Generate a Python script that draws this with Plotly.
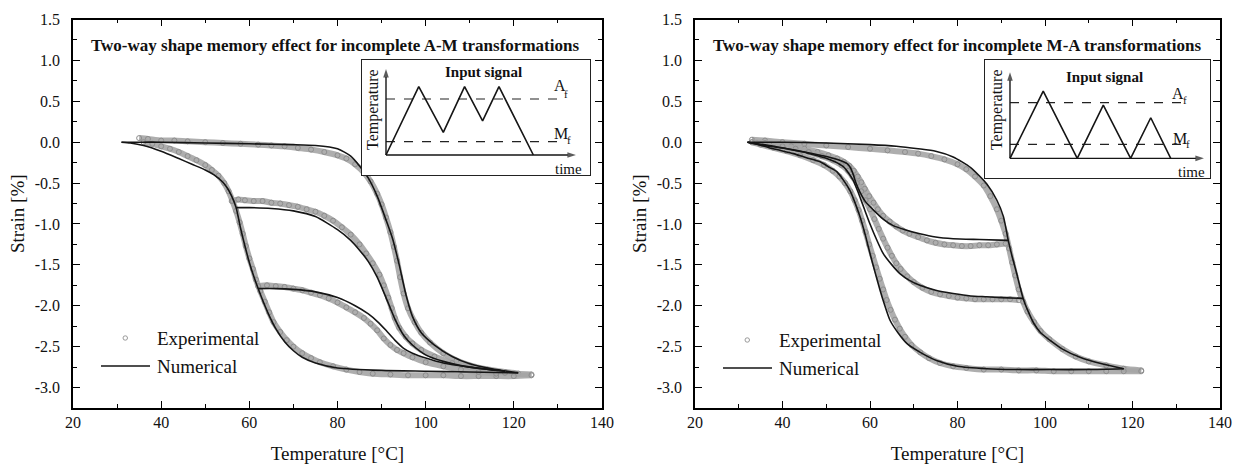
import plotly.graph_objects as go

FONT = '"Liberation Serif", "Times New Roman", Times, serif'
W, H = 1243, 467
INK = "#111111"

# ---------------- tick labels ----------------
x_tick_vals = [20, 40, 60, 80, 100, 120, 140]
x_tick_text = ["20", "40", "60", "80", "100", "120", "140"]
x_minor_vals = [30, 50, 70, 90, 110, 130]
y_tick_vals = [-3.0, -2.5, -2.0, -1.5, -1.0, -0.5, 0.0, 0.5, 1.0, 1.5]
y_tick_text = ["-3.0", "-2.5", "-2.0", "-1.5", "-1.0", "-0.5", "0.0", "0.5", "1.0", "1.5"]
y_minor_vals = [-3.25, -2.75, -2.25, -1.75, -1.25, -0.75, -0.25, 0.25, 0.75, 1.25]

titles = ["Two-way shape memory effect for incomplete A-M transformations",
          "Two-way shape memory effect for incomplete M-A transformations"]
legend_labels = ["Experimental", "Numerical"]

# ---------------- LEFT panel (incomplete A-M) : numerical ----------------
L_num_heat_T = [31, 35, 40, 50, 60, 70, 75, 80, 83, 85, 87, 89, 91, 92.5, 94, 95.5, 97, 99, 102, 106, 110, 115, 121]
L_num_heat_S = [0, 0, 0, -0.01, -0.02, -0.03, -0.04, -0.08, -0.17, -0.29, -0.44, -0.66, -0.95, -1.18, -1.5, -1.86, -2.13, -2.33, -2.48, -2.62, -2.71, -2.77, -2.82]
L_num_cool_T = [121, 110, 100, 90, 80, 75, 72, 70, 68, 66, 64.5, 63, 62, 61, 60, 59, 58, 57.5, 57, 56, 55, 54, 52, 50, 47, 44, 40, 36, 33, 31]
L_num_cool_S = [-2.82, -2.81, -2.8, -2.79, -2.76, -2.7, -2.63, -2.55, -2.44, -2.28, -2.12, -1.93, -1.79, -1.64, -1.47, -1.27, -1.05, -0.92, -0.8, -0.66, -0.56, -0.49, -0.4, -0.34, -0.27, -0.2, -0.11, -0.04, -0.01, 0]
L_num_re1_T = [57, 60, 65, 70, 75, 80, 83, 85, 87, 89, 91, 93, 95, 97, 100, 104, 110, 118]
L_num_re1_S = [-0.8, -0.8, -0.81, -0.84, -0.91, -1.07, -1.2, -1.32, -1.46, -1.65, -1.9, -2.16, -2.36, -2.48, -2.6, -2.68, -2.75, -2.8]
L_num_re2_T = [62, 66, 70, 75, 80, 84, 87, 89, 91, 93, 95, 97, 100, 104, 110, 118]
L_num_re2_S = [-1.79, -1.79, -1.8, -1.83, -1.9, -2.0, -2.1, -2.19, -2.3, -2.42, -2.52, -2.58, -2.64, -2.7, -2.75, -2.8]

# ---------------- LEFT panel : experimental ----------------
L_exp_heat_T = [35, 37, 40, 43, 46, 50, 54, 58, 62, 65, 68, 71, 74, 77, 80, 82, 84, 86, 87.5, 89, 90, 91, 92, 92.8, 93.5, 94.2, 95, 96, 97.5, 99, 101, 104, 107, 110, 114, 118, 121, 124]
L_exp_heat_S = [0.05, 0.04, 0.02, 0.02, 0.01, 0.0, -0.01, -0.02, -0.03, -0.04, -0.05, -0.07, -0.09, -0.12, -0.16, -0.2, -0.27, -0.37, -0.48, -0.63, -0.76, -0.92, -1.1, -1.28, -1.45, -1.65, -1.85, -2.03, -2.2, -2.33, -2.45, -2.58, -2.67, -2.73, -2.78, -2.81, -2.83, -2.84]
L_exp_cool_T = [124, 120, 116, 112, 108, 104, 100, 96, 92, 88, 85, 82, 79, 76, 74, 72, 70, 68.5, 67, 65.5, 64.5, 63.5, 62.5, 61.5, 60.8, 60, 59.2, 58.5, 57.8, 57, 56.2, 55.3, 54.3, 53, 51.5, 50, 48, 46, 44, 42, 40, 38, 36]
L_exp_cool_S = [-2.85, -2.86, -2.86, -2.86, -2.86, -2.85, -2.85, -2.85, -2.84, -2.83, -2.81, -2.78, -2.74, -2.69, -2.64, -2.58, -2.5, -2.42, -2.32, -2.2, -2.08, -1.95, -1.82, -1.68, -1.55, -1.42, -1.27, -1.12, -0.98, -0.84, -0.72, -0.6, -0.5, -0.41, -0.34, -0.28, -0.22, -0.17, -0.12, -0.08, -0.05, -0.02, 0.0]
L_exp_re1_T = [56, 57.5, 59, 61, 63, 65, 67, 69, 71, 73, 75, 77, 79, 81, 83, 85, 86.5, 88, 89.5, 90.5, 91.5, 92.3, 93, 94, 95.5, 97, 99, 102, 106, 110, 114, 118]
L_exp_re1_S = [-0.72, -0.7, -0.71, -0.72, -0.72, -0.74, -0.75, -0.77, -0.79, -0.82, -0.85, -0.9, -0.96, -1.04, -1.13, -1.25, -1.36, -1.48, -1.62, -1.75, -1.9, -2.03, -2.15, -2.27, -2.38, -2.46, -2.54, -2.62, -2.7, -2.75, -2.79, -2.82]
L_exp_re2_T = [62, 64, 66, 68, 70, 72, 74, 76, 78, 80, 82, 84, 86, 87.5, 89, 90.5, 92, 93.5, 95, 97, 100, 104, 108, 112, 116]
L_exp_re2_S = [-1.76, -1.75, -1.76, -1.77, -1.79, -1.81, -1.84, -1.87, -1.91, -1.96, -2.02, -2.08, -2.15, -2.22, -2.3, -2.4, -2.48, -2.54, -2.58, -2.63, -2.69, -2.74, -2.78, -2.81, -2.83]

# ---------------- RIGHT panel (incomplete M-A) : numerical ----------------
R_num_heat_T = [32, 40, 50, 60, 66, 71, 75, 79, 83, 86.7, 89, 90.5, 91.6, 92.5, 93.5, 94.3, 95, 96, 97.5, 99, 101.1, 104, 108, 113, 118]
R_num_heat_S = [0, 0, -0.01, -0.03, -0.05, -0.08, -0.11, -0.18, -0.31, -0.51, -0.71, -0.91, -1.2, -1.4, -1.6, -1.77, -1.91, -2.05, -2.22, -2.33, -2.42, -2.53, -2.63, -2.71, -2.77]
R_num_c1_T = [91.6, 85, 79, 75, 71.4, 68, 65.3, 63, 60.8, 59, 57.7, 56.8, 56.2, 55.5, 54.7, 53.5, 52.4, 50.5, 48.6, 45, 41, 37, 32]
R_num_c1_S = [-1.2, -1.19, -1.18, -1.16, -1.12, -1.07, -1.02, -0.94, -0.83, -0.73, -0.61, -0.5, -0.4, -0.31, -0.26, -0.23, -0.21, -0.18, -0.16, -0.12, -0.08, -0.04, 0]
R_num_c2_T = [95, 90, 86.7, 83, 79, 75, 71.4, 69, 66.9, 65, 63, 61.5, 60, 58.8, 57.7, 56.9, 56.2, 55, 53.9, 52, 50.1, 47.5, 44.8, 41, 37.1, 32]
R_num_c2_S = [-1.91, -1.9, -1.89, -1.88, -1.85, -1.81, -1.75, -1.69, -1.61, -1.5, -1.36, -1.19, -1.0, -0.83, -0.67, -0.56, -0.47, -0.37, -0.3, -0.24, -0.2, -0.16, -0.12, -0.08, -0.05, 0]
R_num_c3_T = [118, 110, 101, 93, 86.7, 80, 75.2, 71.5, 68.4, 66.4, 64.6, 63.4, 62.3, 61.1, 60, 58.9, 57.7, 56.5, 55.4, 54, 52.4, 50.5, 48.6, 45.5, 42.5, 39.5, 37.1, 34.5, 32]
R_num_c3_S = [-2.77, -2.78, -2.78, -2.78, -2.77, -2.74, -2.67, -2.57, -2.46, -2.33, -2.18, -2.0, -1.81, -1.58, -1.36, -1.13, -0.91, -0.73, -0.59, -0.47, -0.36, -0.3, -0.24, -0.19, -0.14, -0.1, -0.07, -0.03, 0]

# ---------------- RIGHT panel : experimental ----------------
R_exp_heat_T = [33, 36, 40, 45, 50, 55, 60, 64, 68, 71, 74, 77, 80, 82, 84, 86, 87.5, 89, 90, 91, 91.8, 92.5, 93.2, 94, 95, 96, 97.5, 99, 101, 104, 107, 110, 114, 118, 122]
R_exp_heat_S = [0.03, 0.02, 0.0, -0.02, -0.04, -0.06, -0.08, -0.1, -0.12, -0.14, -0.17, -0.21, -0.27, -0.33, -0.42, -0.53, -0.66, -0.82, -0.96, -1.12, -1.3, -1.47, -1.63, -1.8, -1.95, -2.07, -2.2, -2.31, -2.41, -2.53, -2.62, -2.68, -2.73, -2.77, -2.79]
R_exp_c1_T = [91, 89, 87, 85, 83, 81, 79, 77, 75, 73, 71, 69, 67.5, 66, 64.5, 63, 61.8, 60.8, 59.8, 58.8, 58, 57.2, 56.3, 55.3, 54, 52.5, 50.5, 48, 45, 42, 39, 36, 33]
R_exp_c1_S = [-1.24, -1.25, -1.26, -1.26, -1.27, -1.27, -1.26, -1.25, -1.23, -1.2, -1.16, -1.12, -1.08, -1.03, -0.97, -0.9, -0.82, -0.74, -0.66, -0.57, -0.49, -0.42, -0.35, -0.29, -0.24, -0.2, -0.16, -0.12, -0.08, -0.05, -0.03, -0.01, 0.0]
R_exp_c2_T = [94, 92, 90, 88, 86, 84, 82, 80, 78, 76, 74, 72, 70, 68.5, 67, 66, 65, 64, 63, 62, 61, 60, 59, 58, 57, 56, 55, 53.5, 51.5, 49, 46, 43, 40, 37, 34]
R_exp_c2_S = [-1.93, -1.92, -1.92, -1.92, -1.92, -1.92, -1.91, -1.9, -1.88, -1.86, -1.83, -1.78, -1.71, -1.64, -1.55, -1.48, -1.39, -1.29, -1.18, -1.06, -0.94, -0.82, -0.71, -0.6, -0.5, -0.42, -0.35, -0.28, -0.22, -0.17, -0.12, -0.08, -0.05, -0.03, -0.01]
R_exp_c3_T = [122, 118, 114, 110, 106, 102, 98, 94, 90, 86, 82, 79, 76, 73.5, 71.5, 69.5, 68, 66.8, 65.7, 64.7, 63.8, 63, 62.2, 61.4, 60.6, 59.8, 59, 58.2, 57.4, 56.5, 55.5, 54.3, 53, 51.5, 49.5, 47, 44, 41, 38, 35, 33]
R_exp_c3_S = [-2.8, -2.8, -2.8, -2.8, -2.8, -2.8, -2.79, -2.79, -2.78, -2.78, -2.76, -2.74, -2.7, -2.64, -2.57, -2.48, -2.38, -2.28, -2.17, -2.05, -1.93, -1.8, -1.67, -1.53, -1.39, -1.25, -1.1, -0.96, -0.83, -0.71, -0.6, -0.5, -0.42, -0.35, -0.28, -0.22, -0.16, -0.11, -0.07, -0.03, 0.0]

# ---------------- insets: input signals (arbitrary units) ----------------
L_sig_time = [0, 2, 3.5, 4.8, 5.9, 6.9, 9]
L_sig_temp = [0, 10, 3.3, 10, 5, 10, 0]
L_Af, L_Mf = 8.2, 1.95
R_sig_time = [0, 2.03, 4.11, 5.7, 7.37, 8.6, 9.82]
R_sig_temp = [0, 9.85, 0, 7.8, 0, 5.94, 0]
R_Af, R_Mf = 8.14, 2.05
level_span = [0, 10.8]

# ---------------- figure ----------------
def px(x):
    return x / W

def py(y):
    return 1 - y / H

fig = go.Figure()

def add_exp(T, S, xa, ya):
    fig.add_trace(go.Scatter(x=T, y=S, xaxis=xa, yaxis=ya, mode="lines",
                             line=dict(color="rgba(165,165,165,0.9)", width=6, shape="spline", smoothing=0.6),
                             showlegend=False, hoverinfo="skip"))
    fig.add_trace(go.Scatter(x=T, y=S, xaxis=xa, yaxis=ya, mode="markers",
                             marker=dict(symbol="circle-open", size=5, color="#8d8d8d", line=dict(width=1)),
                             showlegend=False, name=legend_labels[0]))

def add_num(T, S, xa, ya):
    fig.add_trace(go.Scatter(x=T, y=S, xaxis=xa, yaxis=ya, mode="lines",
                             line=dict(color="#151515", width=1.6, shape="spline", smoothing=0.6),
                             showlegend=False, name=legend_labels[1]))

for T, S in [(L_exp_heat_T, L_exp_heat_S), (L_exp_cool_T, L_exp_cool_S),
             (L_exp_re1_T, L_exp_re1_S), (L_exp_re2_T, L_exp_re2_S)]:
    add_exp(T, S, "x", "y")
for T, S in [(L_num_heat_T, L_num_heat_S), (L_num_cool_T, L_num_cool_S),
             (L_num_re1_T, L_num_re1_S), (L_num_re2_T, L_num_re2_S)]:
    add_num(T, S, "x", "y")
for T, S in [(R_exp_heat_T, R_exp_heat_S), (R_exp_c1_T, R_exp_c1_S),
             (R_exp_c2_T, R_exp_c2_S), (R_exp_c3_T, R_exp_c3_S)]:
    add_exp(T, S, "x2", "y2")
for T, S in [(R_num_heat_T, R_num_heat_S), (R_num_c1_T, R_num_c1_S),
             (R_num_c2_T, R_num_c2_S), (R_num_c3_T, R_num_c3_S)]:
    add_num(T, S, "x2", "y2")

# inset traces: level lines, input signal, axis arrows
for xa, ya, tt, temp, af, mf, xtip, ytip in [
        ("x3", "y3", L_sig_time, L_sig_temp, L_Af, L_Mf, 11.6, 12.6),
        ("x4", "y4", R_sig_time, R_sig_temp, R_Af, R_Mf, 11.85, 12.6)]:
    for lvl in (af, mf):
        fig.add_trace(go.Scatter(x=level_span, y=[lvl, lvl], xaxis=xa, yaxis=ya, mode="lines",
                                 line=dict(color="#222", width=1.2, dash="dash"), showlegend=False,
                                 hoverinfo="skip"))
    fig.add_trace(go.Scatter(x=tt, y=temp, xaxis=xa, yaxis=ya, mode="lines",
                             line=dict(color="#151515", width=1.6), showlegend=False))
    for ax_x, ax_y in [([0, xtip], [0, 0]), ([0, 0], [0, ytip])]:
        fig.add_trace(go.Scatter(x=ax_x, y=ax_y, xaxis=xa, yaxis=ya, mode="lines+markers",
                                 line=dict(color="#151515", width=1.4),
                                 marker=dict(symbol="arrow", size=[0, 9], angleref="previous",
                                             color="#151515", line=dict(width=0)),
                                 showlegend=False, hoverinfo="skip"))

tickfont = dict(family=FONT, size=16, color=INK)
titlefont = dict(family=FONT, size=19, color=INK)

def main_x(domain, anchor):
    return dict(domain=domain, anchor=anchor, range=[20, 140], tickmode="array",
                tickvals=x_tick_vals, ticktext=x_tick_text, ticks="inside", ticklen=7,
                tickwidth=1.3, tickcolor="black", showline=True, linecolor="black",
                linewidth=1.5, mirror="allticks", showgrid=False, zeroline=False,
                minor=dict(tickmode="array", tickvals=x_minor_vals, ticks="inside",
                           ticklen=4, tickwidth=1.2, tickcolor="black", showgrid=False),
                tickfont=tickfont, ticklabelstandoff=-1,
                title=dict(text="Temperature [°C]", font=titlefont, standoff=17),
                automargin=False, fixedrange=True)

def main_y(domain, anchor):
    return dict(domain=domain, anchor=anchor, range=[-3.25, 1.5], tickmode="array",
                tickvals=y_tick_vals, ticktext=y_tick_text, ticks="inside", ticklen=7,
                tickwidth=1.3, tickcolor="black", showline=True, linecolor="black",
                linewidth=1.5, mirror="allticks", showgrid=False, zeroline=False,
                minor=dict(tickmode="array", tickvals=y_minor_vals, ticks="inside",
                           ticklen=4, tickwidth=1.2, tickcolor="black", showgrid=False),
                tickfont=tickfont, ticklabelstandoff=8,
                title=dict(text="Strain [%]", font=titlefont, standoff=5),
                automargin=False, fixedrange=True)

def inset_ax(domain, anchor, rng):
    return dict(domain=domain, anchor=anchor, range=rng, showline=True, mirror=True,
                linecolor="#222", linewidth=1.2, ticks="", showticklabels=False,
                showgrid=False, zeroline=False, fixedrange=True)

ydom = [py(408), py(19.5)]
fig.update_layout(
    width=W, height=H, autosize=False,
    margin=dict(l=0, r=0, t=0, b=0),
    paper_bgcolor="white", plot_bgcolor="white",
    font=dict(family=FONT, color=INK),
    showlegend=False,
    xaxis=main_x([px(73), px(602)], "y"),
    yaxis=main_y(ydom, "x"),
    xaxis2=main_x([px(695), px(1220)], "y2"),
    yaxis2=main_y(ydom, "x2"),
    xaxis3=inset_ax([px(362), px(590)], "y3", [-1.466, 12.46]),
    yaxis3=inset_ax([py(175), py(60)], "x3", [-2.93, 13.91]),
    xaxis4=inset_ax([px(985), px(1210)], "y4", [-1.527, 12.22]),
    yaxis4=inset_ax([py(177.5), py(60)], "x4", [-2.8, 14.39]),
)

ann = []
# panel titles
for cx, t in [(335, titles[0]), (957, titles[1])]:
    ann.append(dict(x=px(cx), y=py(45), xref="paper", yref="paper", text="<b>" + t + "</b>",
                    showarrow=False, xanchor="center", yanchor="middle",
                    font=dict(family=FONT, size=17, color=INK)))

# inset annotations (A/M letters with a smaller, lowered "f")
for xr, yr, tx, ty, ix, iy, ax_, ay_, fax, fay, mx, my, fmx, fmy, tmx, tmy in [
        ("x3", "y3", -0.79, 6.6, 5.93, 12.2, 10.6, 10.18, 10.97, 9.0, 10.66, 3.22, 11.15, 2.2, 11.12, -2.05),
        ("x4", "y4", -0.79, 7.07, 5.8, 11.95, 10.29, 9.56, 10.72, 8.5, 10.38, 2.97, 10.9, 2.05, 11.1, -1.95)]:
    ann.append(dict(x=tx, y=ty, xref=xr, yref=yr, text="Temperature", textangle=-90, showarrow=False,
                    font=dict(family=FONT, size=16, color=INK)))
    ann.append(dict(x=ix, y=iy, xref=xr, yref=yr, text="<b>Input signal</b>", showarrow=False,
                    font=dict(family=FONT, size=15, color=INK)))
    ann.append(dict(x=ax_, y=ay_, xref=xr, yref=yr, text="A", showarrow=False,
                    font=dict(family=FONT, size=16, color=INK)))
    ann.append(dict(x=fax, y=fay, xref=xr, yref=yr, text="f", showarrow=False,
                    font=dict(family=FONT, size=11, color=INK)))
    ann.append(dict(x=mx, y=my, xref=xr, yref=yr, text="M", showarrow=False,
                    font=dict(family=FONT, size=16, color=INK)))
    ann.append(dict(x=fmx, y=fmy, xref=xr, yref=yr, text="f", showarrow=False,
                    font=dict(family=FONT, size=11, color=INK)))
    ann.append(dict(x=tmx, y=tmy, xref=xr, yref=yr, text="time", showarrow=False,
                    font=dict(family=FONT, size=15, color=INK)))

# manual legends
shapes = []
for dx, dy in [(0, 0), (622, 2)]:
    ann.append(dict(x=px(155 + dx), y=py(338 + dy), xref="paper", yref="paper", text=legend_labels[0],
                    showarrow=False, xanchor="left", yanchor="middle",
                    font=dict(family=FONT, size=19, color=INK)))
    ann.append(dict(x=px(155 + dx), y=py(366 + dy), xref="paper", yref="paper", text=legend_labels[1],
                    showarrow=False, xanchor="left", yanchor="middle",
                    font=dict(family=FONT, size=19, color=INK)))
    shapes.append(dict(type="line", xref="paper", yref="paper", x0=px(101 + dx), x1=px(150 + dx),
                       y0=py(366 + dy), y1=py(366 + dy), line=dict(color="#151515", width=1.6)))
    shapes.append(dict(type="circle", xref="paper", yref="paper", x0=px(123 + dx), x1=px(127.5 + dx),
                       y0=py(340.2 + dy), y1=py(335.8 + dy), line=dict(color="#9a9a9a", width=1)))

fig.update_layout(annotations=ann, shapes=shapes)
fig.write_html("out.html", config={"displayModeBar": False},
               post_script="document.body.style.margin='0px';")
